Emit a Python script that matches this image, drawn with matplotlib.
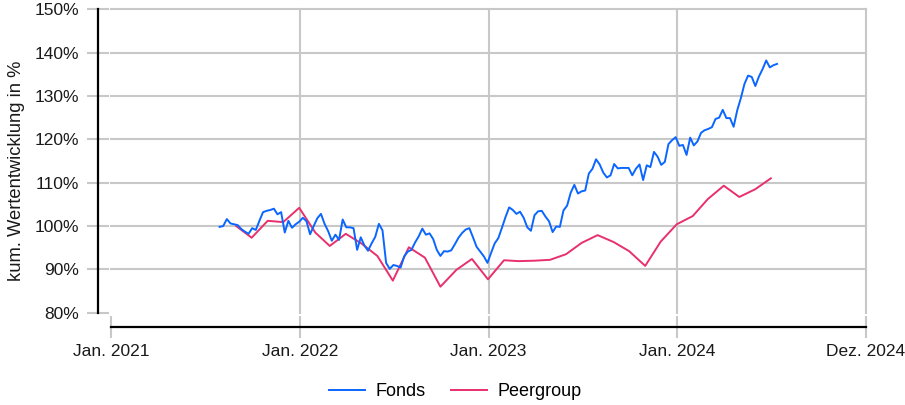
import matplotlib.pyplot as plt
import pandas as pd

plt.rcParams['font.family'] = ['Liberation Sans', 'DejaVu Sans']

# Fonds: weekly values in %, starting end of July 2021
fonds_start = '2021-07-30'
fonds = [
    99.8, 100.0, 101.6, 100.6, 100.4, 100.2, 99.3, 98.7, 98.2, 99.5,
    99.1, 101.2, 103.2, 103.5, 103.7, 104.0, 102.7, 103.2, 98.5, 101.2,
    99.6, 100.4, 101.0, 101.9, 101.1, 98.1, 100.0, 101.8, 102.8, 100.5,
    98.8, 96.6, 98.0, 96.8, 101.5, 99.7, 99.7, 99.5, 94.5, 97.4,
    95.5, 94.3, 96.0, 97.5, 100.5, 99.0, 91.5, 90.1, 91.0, 90.8,
    90.4, 93.0, 94.1, 94.5, 96.2, 97.6, 99.4, 98.0, 98.3, 97.0,
    94.5, 93.1, 94.2, 94.1, 94.4, 95.8, 97.3, 98.4, 99.2, 99.5,
    97.4, 95.2, 94.1, 93.0, 91.5, 93.8, 96.0, 97.2, 99.6, 102.1,
    104.3, 103.7, 102.8, 103.3, 101.9, 99.7, 98.9, 102.5, 103.4, 103.5,
    102.2, 101.1, 98.6, 99.9, 99.8, 103.6, 104.7, 107.7, 109.5, 107.5,
    108.0, 108.2, 112.1, 113.2, 115.4, 114.2, 112.3, 111.2, 111.7, 114.3,
    113.3, 113.4, 113.4, 113.4, 111.7, 113.2, 114.2, 110.6, 114.0, 113.6,
    117.1, 116.0, 114.1, 114.8, 118.9, 119.8, 120.5, 118.5, 118.7, 116.4,
    120.4, 118.6, 119.5, 121.5, 122.1, 122.4, 122.8, 124.7, 125.0, 126.8,
    124.9, 124.9, 122.9, 126.7, 129.5, 132.8, 134.7, 134.4, 132.3, 134.5,
    136.2, 138.2, 136.6, 137.1, 137.4,
]
fonds_dates = pd.date_range(fonds_start, periods=len(fonds), freq='7D')

# Peergroup: month-end values in %, Aug 2021 to Jun 2024
peer = [
    100.0, 97.3, 101.2, 100.9, 104.2, 98.5, 95.4, 98.2, 96.0, 93.1,
    87.4, 95.1, 92.7, 86.0, 89.9, 92.4, 87.7, 92.1, 91.9, 92.0,
    92.2, 93.5, 96.1, 97.9, 96.3, 94.2, 90.8, 96.4, 100.4, 102.3,
    106.2, 109.3, 106.7, 108.5, 111.0,
]
peer_dates = pd.date_range('2021-09-01', periods=len(peer), freq='MS') - pd.Timedelta(days=1)

x_tick_dates = pd.to_datetime(['2021-01-01', '2022-01-01', '2023-01-01', '2024-01-01', '2024-12-31'])
x_tick_labels = ['Jan. 2021', 'Jan. 2022', 'Jan. 2023', 'Jan. 2024', 'Dez. 2024']
y_ticks = [80, 90, 100, 110, 120, 130, 140, 150]
y_tick_labels = [f'{v}%' for v in y_ticks]

blue = '#0a66ff'
pink = '#e8306c'
grid = '#c8c8c8'

fig = plt.figure(figsize=(9.05, 4.05), dpi=100)
ax = fig.add_axes([111 / 905, 1 - 312.7 / 405, 755 / 905, 303.4 / 405])

# grid lines (not at the lower/left edges)
for y in y_ticks[1:]:
    ax.axhline(y, color=grid, lw=1.5, zorder=0, clip_on=False)
for d in x_tick_dates[1:]:
    ax.axvline(d, color=grid, lw=1.5, zorder=0, clip_on=False)

ax.plot(fonds_dates, fonds, color=blue, lw=1.4, label='Fonds', zorder=3)
ax.plot(peer_dates, peer, color=pink, lw=1.4, label='Peergroup', zorder=2)

ax.set_xlim(x_tick_dates[0], x_tick_dates[-1])
ax.set_ylim(80, 150)
ax.set_xticks(x_tick_dates)
ax.set_xticklabels(x_tick_labels)
ax.set_yticks(y_ticks)
ax.set_yticklabels(y_tick_labels)

for s in ['top', 'right']:
    ax.spines[s].set_visible(False)
ax.spines['left'].set_position(('outward', 9.4))
ax.spines['bottom'].set_position(('outward', 10))
for s in ['left', 'bottom']:
    ax.spines[s].set_linewidth(1.6)
    ax.spines[s].set_color('black')

ax.tick_params(axis='both', direction='inout', length=15.5, width=1.5, color=grid,
               labelsize=12.5, labelcolor='#1a1a1a')
ax.tick_params(axis='y', pad=6)
ax.tick_params(axis='x', pad=5)

fig.text(17 / 905, 1 - 171 / 405, 'kum. Wertentwicklung in %', rotation=90,
         ha='center', va='center', fontsize=13.2, color='#1a1a1a')

fig.legend(loc='center', bbox_to_anchor=(0.503, 1 - 392 / 405), ncol=2, frameon=False,
           fontsize=13, handlelength=2.0, columnspacing=1.4, handletextpad=0.6)

fig.savefig('out.png', dpi=100)
